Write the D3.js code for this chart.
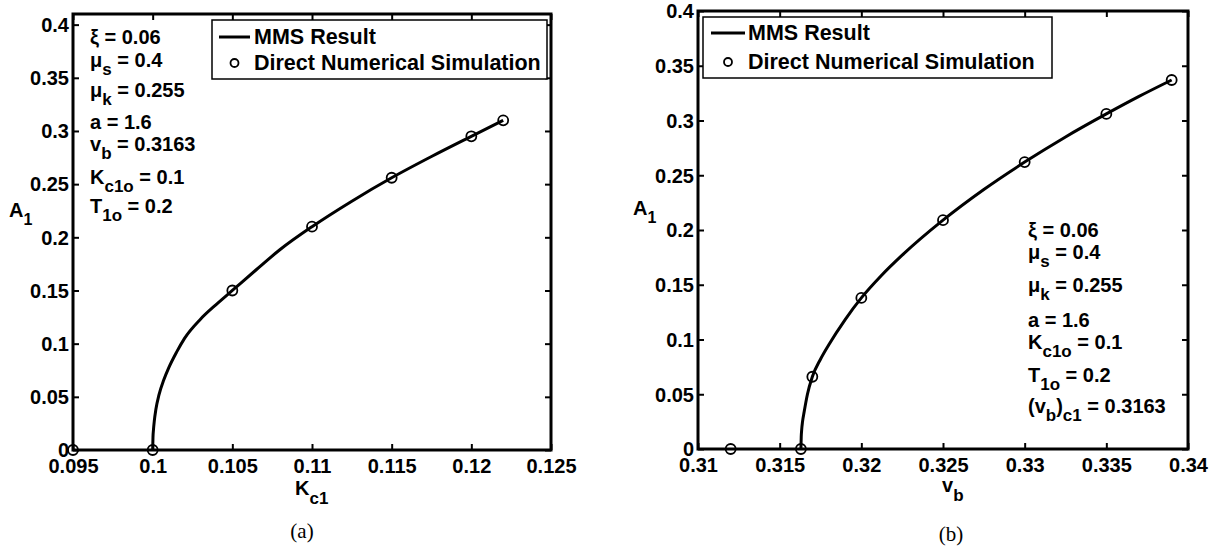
<!DOCTYPE html>
<html>
<head>
<meta charset="utf-8">
<script src="https://cdn.jsdelivr.net/npm/d3@7"></script>
<style>
  html, body { margin: 0; padding: 0; background: #fff; }
  svg { display: block; }
  text { font-family: "Liberation Sans", Arial, Helvetica, sans-serif; font-weight: bold; fill: #000; }
  .caption { font-family: "Liberation Serif", "Times New Roman", serif; font-weight: normal; }
</style>
</head>
<body>
<svg id="fig" width="1221" height="548"></svg>
<script>
// ---------- Panel (a): amplitude A1 versus feedback gain Kc1 ----------
const kcMmsX = [0.1000, 0.10002, 0.10005, 0.10010, 0.10020, 0.10040, 0.10070, 0.10100, 0.10150, 0.10200,
                0.10300, 0.10400, 0.10500, 0.10650, 0.10800, 0.11000, 0.11250, 0.11500, 0.11750, 0.12000, 0.12200];
const kcMmsY = [0.000, 0.012, 0.019, 0.027, 0.038, 0.052, 0.066, 0.077, 0.092, 0.105,
                0.123, 0.137, 0.150, 0.1695, 0.1885, 0.210, 0.234, 0.256, 0.276, 0.295, 0.310];
const kcDnsX = [0.095, 0.100, 0.105, 0.110, 0.115, 0.120, 0.122];
const kcDnsY = [0.000, 0.000, 0.150, 0.210, 0.256, 0.295, 0.310];
const kcTicks = [0.095, 0.1, 0.105, 0.11, 0.115, 0.12, 0.125];
const kcTickLabels = ["0.095", "0.1", "0.105", "0.11", "0.115", "0.12", "0.125"];

// ---------- Panel (b): amplitude A1 versus belt velocity vb ----------
const vbMmsX = [0.3163, 0.31632, 0.31635, 0.3164, 0.3165, 0.3167, 0.3170, 0.3175, 0.3180, 0.3190, 0.3200,
                0.3212, 0.3225, 0.3250, 0.3275, 0.3300, 0.3325, 0.3350, 0.3370, 0.3390];
const vbMmsY = [0.000, 0.011, 0.018, 0.025, 0.034, 0.050, 0.066, 0.082, 0.095, 0.118, 0.138,
                0.158, 0.177, 0.209, 0.237, 0.262, 0.285, 0.306, 0.322, 0.337];
const vbDnsX = [0.312, 0.3163, 0.317, 0.320, 0.325, 0.330, 0.335, 0.339];
const vbDnsY = [0.000, 0.000, 0.066, 0.138, 0.209, 0.262, 0.306, 0.337];
const vbTicks = [0.31, 0.315, 0.32, 0.325, 0.33, 0.335, 0.34];
const vbTickLabels = ["0.31", "0.315", "0.32", "0.325", "0.33", "0.335", "0.34"];

// Shared amplitude axis
const aTicks = [0, 0.05, 0.1, 0.15, 0.2, 0.25, 0.3, 0.35, 0.4];
const aTickLabels = ["0", "0.05", "0.1", "0.15", "0.2", "0.25", "0.3", "0.35", "0.4"];

const legendLabels = ["MMS Result", "Direct Numerical Simulation"];

// Parameter annotations: each line is a list of [text, isSubscript] pieces
const paramsA = [
  [["ξ = 0.06", 0]],
  [["μ", 0], ["s", 1], [" = 0.4", 0]],
  [["μ", 0], ["k", 1], [" = 0.255", 0]],
  [["a = 1.6", 0]],
  [["v", 0], ["b", 1], [" = 0.3163", 0]],
  [["K", 0], ["c1o", 1], [" = 0.1", 0]],
  [["T", 0], ["1o", 1], [" = 0.2", 0]]
];
const paramsB = [
  [["ξ = 0.06", 0]],
  [["μ", 0], ["s", 1], [" = 0.4", 0]],
  [["μ", 0], ["k", 1], [" = 0.255", 0]],
  [["a = 1.6", 0]],
  [["K", 0], ["c1o", 1], [" = 0.1", 0]],
  [["T", 0], ["1o", 1], [" = 0.2", 0]],
  [["(v", 0], ["b", 1], [")", 0], ["c1", 1], [" = 0.3163", 0]]
];

const svg = d3.select("#fig");

// Writes a line of text with subscripted pieces
function richText(g, x, y, pieces, size, subSize, shift = 8) {
  const t = g.append("text").attr("x", x).attr("y", y).style("font-size", size + "px");
  let level = 0;
  pieces.forEach(([s, sub]) => {
    const target = sub ? shift : 0;
    t.append("tspan")
      .attr("dy", target - level)
      .style("font-size", (sub ? subSize : size) + "px")
      .text(s);
    level = target;
  });
  return t;
}

function panel(cfg) {
  const g = svg.append("g");
  const x = d3.scaleLinear().domain(cfg.xDomain).range([cfg.left, cfg.right]);
  const y = d3.scaleLinear().domain(cfg.yDomain).range([cfg.bottom, cfg.top]);

  // Tick marks pointing inward on all four sides
  const tickLen = 6;
  const axB = d3.axisBottom(x).tickValues(cfg.xTicks).tickSizeInner(-tickLen).tickSizeOuter(0)
    .tickPadding(6).tickFormat((d, i) => cfg.xTickLabels[i]);
  const axT = d3.axisTop(x).tickValues(cfg.xTicks).tickSizeInner(-tickLen).tickSizeOuter(0).tickFormat("");
  const axL = d3.axisLeft(y).tickValues(aTicks).tickSizeInner(-tickLen).tickSizeOuter(0)
    .tickPadding(4).tickFormat((d, i) => aTickLabels[i]);
  const axR = d3.axisRight(y).tickValues(aTicks).tickSizeInner(-tickLen).tickSizeOuter(0).tickFormat("");

  const styleAxis = sel => {
    sel.select(".domain").remove();
    sel.selectAll(".tick line").attr("stroke", "#000").attr("stroke-width", 2);
    sel.selectAll(".tick text").style("font-size", "20px").style("font-family", null).attr("fill", "#000");
  };
  g.append("g").attr("transform", `translate(0,${cfg.bottom})`).call(axB).call(styleAxis)
    .selectAll(".tick text").attr("dy", "0.85em");
  g.append("g").attr("transform", `translate(0,${cfg.top})`).call(axT).call(styleAxis);
  g.append("g").attr("transform", `translate(${cfg.left},0)`).call(axL).call(styleAxis)
    .selectAll(".tick text").attr("dy", "0.34em");
  g.append("g").attr("transform", `translate(${cfg.right},0)`).call(axR).call(styleAxis);

  // Axes frame
  g.append("rect")
    .attr("x", cfg.left).attr("y", cfg.top)
    .attr("width", cfg.right - cfg.left).attr("height", cfg.bottom - cfg.top)
    .attr("fill", "none").attr("stroke", "#000").attr("stroke-width", 3);

  // MMS analytical curve
  const line = d3.line().x(d => x(d[0])).y(d => y(d[1])).curve(d3.curveMonotoneX);
  g.append("path")
    .datum(cfg.mmsX.map((v, i) => [v, cfg.mmsY[i]]))
    .attr("d", line)
    .attr("fill", "none").attr("stroke", "#000").attr("stroke-width", 3)
    .attr("stroke-linejoin", "round");

  // Direct numerical simulation points
  g.selectAll("circle.dns")
    .data(cfg.dnsX.map((v, i) => [v, cfg.dnsY[i]]))
    .join("circle").attr("class", "dns")
    .attr("cx", d => x(d[0])).attr("cy", d => y(d[1])).attr("r", 5)
    .attr("fill", "none").attr("stroke", "#000").attr("stroke-width", 1.8);

  // Legend
  const L = cfg.legend;
  g.append("rect").attr("x", L.x0).attr("y", L.y0).attr("width", L.x1 - L.x0).attr("height", L.y1 - L.y0)
    .attr("fill", "#fff").attr("stroke", "#000").attr("stroke-width", 1.5);
  g.append("line").attr("x1", L.lineX0).attr("x2", L.lineX1).attr("y1", L.row1).attr("y2", L.row1)
    .attr("stroke", "#000").attr("stroke-width", 3);
  g.append("circle").attr("cx", (L.lineX0 + L.lineX1) / 2).attr("cy", L.row2).attr("r", 4)
    .attr("fill", "none").attr("stroke", "#000").attr("stroke-width", 1.8);
  g.append("text").attr("x", L.textX).attr("y", L.row1 + 7).style("font-size", "21.5px").text(legendLabels[0]);
  g.append("text").attr("x", L.textX).attr("y", L.row2 + 7).style("font-size", "21.5px").text(legendLabels[1]);

  // Parameter annotation block
  cfg.params.forEach((p, i) => richText(g, cfg.paramX, cfg.paramY[i], p, 20, 17));

  // Axis titles
  richText(g, cfg.yLabel[0], cfg.yLabel[1], [["A", 0], ["1", 1]], 20, 16);
  richText(g, cfg.xLabel[0], cfg.xLabel[1], cfg.xLabelPieces, 20, 17, 9);

  // Panel caption
  g.append("text").attr("class", "caption").attr("x", cfg.caption[0]).attr("y", cfg.caption[1])
    .attr("text-anchor", "middle").style("font-size", "21px").text(cfg.captionText);
}

panel({
  left: 73, right: 551, top: 14, bottom: 450,
  xDomain: [0.095, 0.125], yDomain: [0, 0.41],
  xTicks: kcTicks, xTickLabels: kcTickLabels,
  mmsX: kcMmsX, mmsY: kcMmsY, dnsX: kcDnsX, dnsY: kcDnsY,
  legend: { x0: 212, x1: 547, y0: 20, y1: 79, lineX0: 219, lineX1: 250, textX: 254, row1: 37, row2: 63 },
  params: paramsA, paramX: 90, paramY: [44, 67, 97, 129, 151, 184, 213],
  yLabel: [9, 217], xLabel: [295, 495], xLabelPieces: [["K", 0], ["c1", 1]],
  caption: [302, 538], captionText: "(a)"
});

panel({
  left: 698, right: 1188, top: 11, bottom: 449,
  xDomain: [0.31, 0.34], yDomain: [0, 0.4],
  xTicks: vbTicks, xTickLabels: vbTickLabels,
  mmsX: vbMmsX, mmsY: vbMmsY, dnsX: vbDnsX, dnsY: vbDnsY,
  legend: { x0: 703, x1: 1052, y0: 17, y1: 78, lineX0: 711, lineX1: 745, textX: 748, row1: 33, row2: 62 },
  params: paramsB, paramX: 1028, paramY: [237, 259, 292, 327, 349, 382, 413],
  yLabel: [633, 215], xLabel: [942, 492], xLabelPieces: [["v", 0], ["b", 1]],
  caption: [951, 541], captionText: "(b)"
});
</script>
</body>
</html>
